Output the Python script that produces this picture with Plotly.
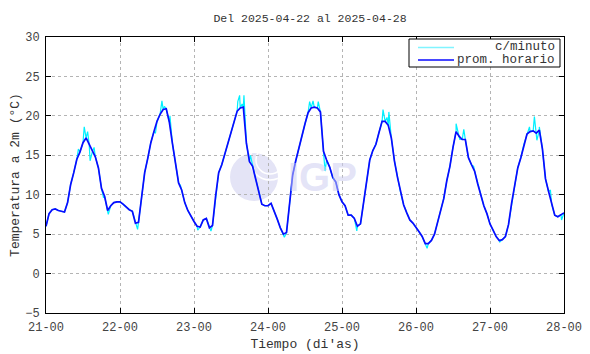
import plotly.graph_objects as go

# ---- data (hourly averages, one list per day, °C) ----
day_labels = ["21-00", "22-00", "23-00", "24-00", "25-00", "26-00", "27-00", "28-00"]
d21 = [6.0, 7.6, 8.1, 8.2, 8.0, 7.9, 7.8, 9.0, 11.3, 12.8, 14.5, 15.4, 16.6, 17.2, 16.4, 15.4, 14.8, 13.4, 10.8, 9.8, 8.0, 8.6, 9.0, 9.1]
d22 = [9.1, 8.8, 8.4, 8.1, 7.9, 6.4, 6.5, 10.0, 12.8, 14.6, 16.6, 18.0, 19.3, 20.2, 20.8, 20.9, 19.2, 16.5, 13.8, 11.5, 10.6, 9.0, 8.0, 7.2]
d23 = [6.6, 6.0, 5.9, 6.8, 7.0, 5.8, 6.1, 9.8, 12.8, 13.8, 15.2, 16.5, 18.0, 19.5, 20.6, 21.0, 21.1, 16.5, 14.2, 13.6, 12.0, 10.5, 8.8, 8.6]
d24 = [8.6, 8.9, 8.0, 6.9, 5.8, 5.0, 5.2, 8.8, 12.5, 14.3, 16.0, 17.6, 19.0, 20.4, 21.0, 21.1, 21.0, 20.5, 15.5, 14.4, 13.5, 12.2, 11.6, 10.0]
d25 = [9.1, 8.6, 7.4, 7.4, 7.0, 6.0, 6.3, 9.0, 12.0, 14.4, 15.6, 16.4, 17.9, 19.3, 19.3, 18.8, 17.2, 14.3, 12.2, 10.3, 8.7, 7.7, 6.8, 6.4]
d26 = [5.9, 5.3, 4.7, 3.8, 3.8, 4.2, 5.0, 6.5, 8.0, 9.5, 11.8, 13.6, 16.0, 18.0, 17.4, 17.0, 17.0, 14.7, 13.8, 13.0, 11.4, 10.0, 8.6, 7.6]
d27 = [6.3, 5.5, 4.7, 4.2, 4.3, 4.7, 6.2, 8.9, 11.1, 13.4, 14.7, 16.4, 17.7, 18.0, 18.1, 17.8, 18.2, 15.8, 12.0, 10.4, 8.8, 7.4, 7.2, 7.5]
d28_start = [7.7]

# per-minute excursions visible in the picture (hours since 21-00, °C)
spike_t = [10.5, 12.4, 13.5, 14.3, 15.6, 18.6, 20.2,
           29.7, 35.5, 37.6, 38.4, 40.2, 43.6,
           49.2, 53.5, 62.2, 62.8, 63.6, 64.2, 66.3, 67.5,
           77.3, 85.5, 86.6, 88.3, 90.5,
           100.8, 109.3, 110.6, 111.2,
           123.6, 133.0, 134.2, 135.5, 138.7,
           147.2, 156.8, 158.4, 159.2, 160.0, 163.6, 167.2]
spike_v = [15.8, 18.6, 18.0, 14.3, 16.0, 9.7, 7.5,
           5.6, 17.8, 21.9, 21.2, 20.0, 11.2,
           5.5, 5.4, 21.8, 22.6, 21.5, 22.6, 15.0, 13.0,
           4.6, 21.8, 21.9, 21.8, 13.0,
           5.4, 20.8, 19.8, 20.5,
           3.2, 19.0, 17.0, 18.3, 13.6,
           4.0, 18.6, 19.9, 16.9, 18.6, 10.6, 6.8]

series_names = ["c/minuto", "prom. horario"]
series_colors = ["#00f0ff", "#0a0aff"]
legend_colors = ["#80f4ff", "#0a0aff"]

hourly = d21 + d22 + d23 + d24 + d25 + d26 + d27 + d28_start
hours = list(range(len(hourly)))

# minute series: hourly samples merged with the spikes
pairs = sorted(list(zip(hours, hourly)) + list(zip(spike_t, spike_v)))
min_t = [p[0] for p in pairs]
min_v = [p[1] for p in pairs]

FONT = "Liberation Mono"
W, H = 590, 354
OFF = 8  # page body margin of the browser
# desired plot box on screen: x 46..564, y 37..313
PL, PR, PT, PB = 46, 564, 37, 313
PW, PH = PR - PL, PB - PT
ML, MT = PL - OFF, PT - OFF
MR = W - ML - PW
MB = H - MT - PH


def px(x):  # screen x -> paper
    return (x - PL) / PW


def py(y):  # screen y -> paper
    return (PB - y) / PH


fig = go.Figure()
fig.add_trace(go.Scatter(x=min_t, y=min_v, mode="lines", name=series_names[0],
                         line=dict(color=series_colors[0], width=1.2), showlegend=False))
fig.add_trace(go.Scatter(x=hours, y=hourly, mode="lines", name=series_names[1],
                         line=dict(color=series_colors[1], width=1.7), showlegend=False))

axis_common = dict(showline=True, linecolor="black", linewidth=1, mirror="ticks",
                   ticks="inside", ticklen=5, tickcolor="black", automargin=False,
                   showgrid=True, gridcolor="#b4b4b4", griddash="dot", gridwidth=1,
                   zeroline=False, tickfont=dict(family=FONT, size=12, color="#444444"))

fig.update_xaxes(range=[0, 168], tickvals=[24 * i for i in range(8)], ticktext=day_labels,
                 ticklabelstandoff=3,
                 title=dict(text="Tiempo (di'as)", font=dict(family=FONT, size=13, color="#333333"), standoff=4),
                 **axis_common)
fig.update_yaxes(range=[-5, 30], dtick=5, ticklabelstandoff=3,
                 title=dict(text="Temperatura a 2m (°C)", font=dict(family=FONT, size=13, color="#333333"), standoff=6),
                 **axis_common)

# IGP watermark
fig.add_shape(type="circle", xref="paper", yref="paper", xsizemode="pixel", ysizemode="pixel",
              xanchor=px(254), yanchor=py(177), x0=-24, x1=24, y0=-24, y1=24,
              fillcolor="rgba(228,228,246,1)", line=dict(width=0), layer="below")
for r in (14, 20):
    fig.add_shape(type="circle", xref="paper", yref="paper", xsizemode="pixel", ysizemode="pixel",
                  xanchor=px(270), yanchor=py(160), x0=-r, x1=r, y0=-r, y1=r,
                  fillcolor="rgba(0,0,0,0)", line=dict(width=1.5, color="white"), layer="below")
fig.add_annotation(text="<b>IGP</b>", xref="paper", yref="paper", x=px(322), y=py(177),
                   showarrow=False, font=dict(family="Liberation Sans", size=40, color="rgba(205,205,240,0.55)"))

# legend box drawn like the reference (lines left, text right-aligned)
fig.add_shape(type="rect", xref="paper", yref="paper", x0=px(409), x1=px(560), y0=py(67), y1=py(39),
              fillcolor="white", line=dict(color="black", width=1), layer="above")
for i, (nm, col) in enumerate(zip(series_names, legend_colors)):
    yy = 47.5 + 12.5 * i
    fig.add_shape(type="line", xref="paper", yref="paper", x0=px(418), x1=px(454), y0=py(yy), y1=py(yy),
                  line=dict(color=col, width=1.6), layer="above")
    fig.add_annotation(text=nm, xref="paper", yref="paper", x=px(557), y=py(yy), xanchor="right",
                       yanchor="middle", showarrow=False,
                       font=dict(family=FONT, size=12.5, color="#333333"))

fig.update_layout(
    width=W, height=H,
    margin=dict(l=ML, r=MR, t=MT, b=MB),
    paper_bgcolor="white", plot_bgcolor="white",
    title=dict(text="Del 2025-04-22 al 2025-04-28", x=(310 - OFF) / W, xanchor="center", xref="container",
               y=1 - (18 - OFF) / H, yref="container", yanchor="middle",
               font=dict(family=FONT, size=11.5, color="#333333")),
    showlegend=False,
)

fig.write_html("out.html")
